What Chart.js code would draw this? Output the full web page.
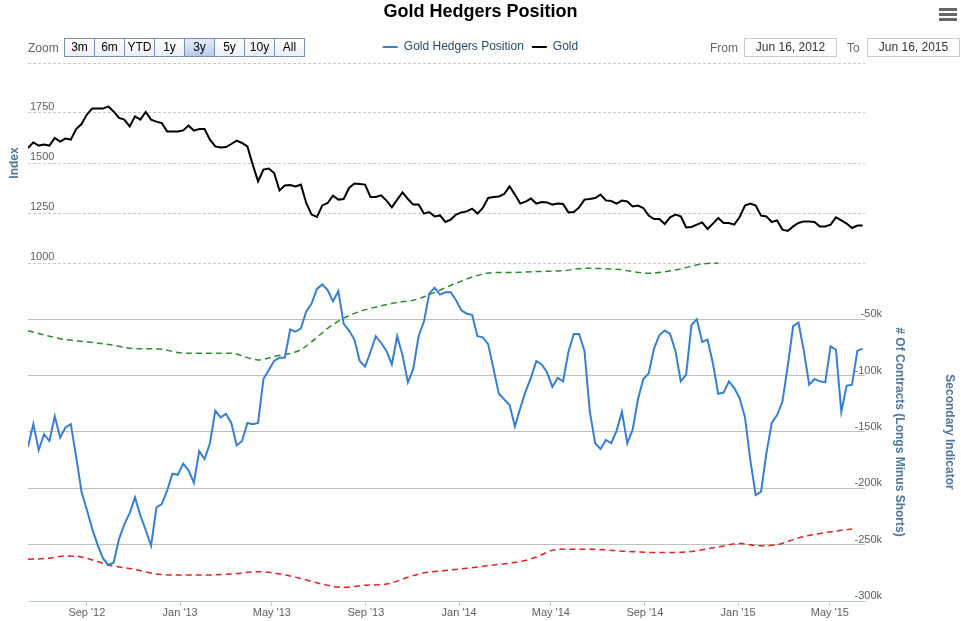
<!DOCTYPE html>
<html>
<head>
<meta charset="utf-8">
<title>Gold Hedgers Position</title>
<script src="https://cdn.jsdelivr.net/npm/chart.js@4.4.1/dist/chart.umd.min.js"></script>
<style>
  body { margin: 0; background: #fff; font-family: "Liberation Sans", Arial, sans-serif; }
  #wrap { position: relative; width: 961px; height: 621px; overflow: hidden; }
  #chart { position: absolute; left: 0; top: 0; }
  .ctl { position: absolute; top: 39px; line-height: 19px; font-size: 12px; color: #666; }
  .btns { position: absolute; left: 64px; top: 38px; display: flex; }
  .btns span { width: 29px; height: 17px; line-height: 17px; border: 1px solid #7391b8; margin-right: -1px;
    text-align: center; font-size: 12px; color: #000; background: linear-gradient(#ffffff, #eceff3); }
  .btns span.on { background: linear-gradient(#e4edf8, #b5cbe8); }
  .date { position: absolute; top: 38px; width: 91px; height: 17px; line-height: 17px; border: 1px solid #ccc;
    font-size: 12px; color: #333; text-align: center; }
  .menu { position: absolute; left: 939px; width: 18px; height: 3px; background: #666; }
</style>
</head>
<body>
<div id="wrap">
  <canvas id="chart" width="961" height="621"></canvas>
  <div class="ctl" style="left:28px">Zoom</div>
  <div class="btns" id="btns"></div>
  <div class="ctl" style="left:710px">From</div>
  <div class="date" style="left:744px">Jun 16, 2012</div>
  <div class="ctl" style="left:847px">To</div>
  <div class="date" style="left:867px">Jun 16, 2015</div>
  <div class="menu" style="top:8px"></div>
  <div class="menu" style="top:13px"></div>
  <div class="menu" style="top:18px"></div>
</div>
<script>
// weekly readings, starting on the first date
const startDate = '2012-06-16';
const endDate = '2015-06-16';

// Gold price (Index)
const goldValues = [
  1575, 1603, 1587, 1592, 1587, 1625, 1607, 1622, 1617, 1670,
  1695, 1742, 1772, 1772, 1772, 1783, 1758, 1725, 1717, 1683,
  1733, 1717, 1755, 1717, 1707, 1700, 1658, 1658, 1658, 1663,
  1687, 1662, 1670, 1670, 1617, 1583, 1578, 1580, 1595, 1612,
  1600, 1583, 1492, 1408, 1467, 1472, 1450, 1363, 1388, 1390,
  1383, 1392, 1300, 1242, 1230, 1288, 1300, 1337, 1317, 1320,
  1375, 1397, 1395, 1392, 1330, 1330, 1338, 1312, 1278, 1317,
  1353, 1320, 1292, 1292, 1247, 1255, 1233, 1238, 1205, 1217,
  1242, 1253, 1258, 1272, 1247, 1275, 1325, 1330, 1333, 1345,
  1383, 1342, 1297, 1307, 1322, 1297, 1305, 1303, 1292, 1297,
  1295, 1253, 1255, 1278, 1317, 1320, 1325, 1342, 1313, 1310,
  1297, 1312, 1308, 1283, 1287, 1275, 1237, 1220, 1220, 1195,
  1228, 1242, 1233, 1178, 1180, 1192, 1203, 1170, 1197, 1225,
  1200, 1200, 1192, 1230, 1287, 1297, 1287, 1237, 1233, 1205,
  1213, 1167, 1160, 1183, 1200, 1208, 1208, 1205, 1183, 1183,
  1192, 1228, 1213, 1197, 1175, 1187, 1188
];

// hedgers net position, thousands of contracts
const hedgerValues = [
  -163, -143, -166, -152, -158, -136, -155, -146, -143, -172,
  -203, -219, -236, -250, -262, -268, -266, -245, -232, -222,
  -208, -224, -237, -251, -217, -214, -202, -187, -188, -178,
  -184, -195, -167, -174, -160, -131, -137, -134, -142, -162,
  -158, -142, -143, -142, -103, -95, -87, -84, -84, -59,
  -61, -58, -43, -36, -23, -19, -24, -34, -25, -54,
  -60, -68, -87, -92, -79, -65, -71, -78, -90, -65,
  -82, -106, -94, -65, -52, -27, -22, -28, -26, -26,
  -33, -42, -45, -46, -65, -66, -72, -94, -116, -121,
  -126, -145, -129, -114, -102, -87, -90, -97, -110, -102,
  -105, -79, -63, -63, -78, -132, -160, -165, -157, -160,
  -149, -132, -160, -148, -121, -103, -98, -76, -64, -60,
  -63, -78, -105, -99, -55, -50, -70, -68, -89, -116,
  -115, -105, -111, -120, -137, -175, -206, -203, -169, -142,
  -135, -123, -91, -56, -53, -78, -108, -103, -105, -106,
  -74, -77, -132, -109, -108, -78, -76
];

// secondary indicator bands (week number, thousands)
const upperWeeks = [0, 4, 7, 11, 16, 20, 24, 29, 33, 38, 41, 43, 46, 51, 53, 56, 59, 62, 66, 69,
  72, 74, 77, 80, 84, 87, 90, 95, 100, 104, 110, 116, 121, 126, 129];
const upperValues = [-60, -65, -68, -70, -73, -76, -76, -80, -80, -80, -84, -86, -83, -77, -70, -58, -49, -43, -38, -35,
  -33, -30, -24, -18, -11, -8.5, -8.5, -7.6, -6.8, -4.7, -5.6, -9.1, -6.2, -0.8, 0];
const lowerWeeks = [0, 4, 7, 10, 13, 15, 20, 24, 28, 33, 38, 43, 47, 51, 55, 59, 63, 67, 71, 74,
  78, 82, 87, 92, 95, 98, 100, 105, 112, 118, 124, 129, 133, 137, 140, 144, 148, 154];
const lowerValues = [-263, -262, -260, -261, -265, -268, -272, -276, -277, -277, -276, -274, -276, -280, -285, -288, -286, -285, -279, -275,
  -273, -271, -268, -265, -261, -255, -254, -254, -256, -257, -256, -252, -249, -251, -250, -244, -240, -236];

const tickDates = ['2012-09-01', '2013-01-01', '2013-05-01', '2013-09-01', '2014-01-01',
  '2014-05-01', '2014-09-01', '2015-01-01', '2015-05-01'];
const tickLabels = ["Sep '12", "Jan '13", "May '13", "Sep '13", "Jan '14",
  "May '14", "Sep '14", "Jan '15", "May '15"];
const goldTicks = [1000, 1250, 1500, 1750, 2000];
const hedgeTicks = [-300, -250, -200, -150, -100, -50];
const rangeButtons = ['3m', '6m', 'YTD', '1y', '3y', '5y', '10y', 'All'];

document.getElementById('btns').innerHTML = rangeButtons
  .map(b => '<span' + (b === '3y' ? ' class="on"' : '') + '>' + b + '</span>').join('');

const DAY = 86400000;
const t0 = Date.parse(startDate);
const weekTime = i => t0 + i * 7 * DAY;

// gold pane takes the upper part of the plot, hedgers the lower part
const split = 200 / 538;
const goldMin = 2000 - 1000 / split;
const hedgeMax = 300 / (1 - split) - 300;

Chart.defaults.font.family = '"Liberation Sans", Arial, sans-serif';

const axisTitles = {
  id: 'axisTitles',
  afterDraw(chart) {
    const { ctx, chartArea } = chart;
    const g = chart.scales.yGold, h = chart.scales.yHedge;
    const goldMid = (g.getPixelForValue(2000) + g.getPixelForValue(1000)) / 2;
    const hedgeMid = (h.getPixelForValue(0) + h.getPixelForValue(-300)) / 2;
    const put = (text, x, y, angle) => {
      ctx.save();
      ctx.translate(x, y);
      ctx.rotate(angle);
      ctx.fillText(text, 0, 0);
      ctx.restore();
    };
    ctx.save();
    ctx.font = 'bold 12px "Liberation Sans", Arial, sans-serif';
    ctx.fillStyle = '#4d759e';
    ctx.textAlign = 'center';
    ctx.textBaseline = 'middle';
    put('Index', 15, goldMid, -Math.PI / 2);
    put('# Of Contracts (Longs Minus Shorts)', chartArea.right + 34, hedgeMid, Math.PI / 2);
    put('Secondary Indicator', chartArea.right + 84, hedgeMid, Math.PI / 2);
    ctx.restore();
  }
};

const ctx = document.getElementById('chart').getContext('2d');
new Chart(ctx, {
  type: 'line',
  data: {
    datasets: [
      {
        label: 'Gold Hedgers Position',
        data: hedgerValues.map((v, i) => ({ x: weekTime(i), y: v })),
        yAxisID: 'yHedge',
        borderColor: '#3580d4',
        backgroundColor: '#3580d4',
        borderWidth: 2,
        pointRadius: 0
      },
      {
        label: 'Gold',
        data: goldValues.map((v, i) => ({ x: weekTime(i), y: v })),
        yAxisID: 'yGold',
        borderColor: '#000000',
        backgroundColor: '#000000',
        borderWidth: 2,
        pointRadius: 0
      },
      {
        label: 'Upper',
        data: upperWeeks.map((w, i) => ({ x: weekTime(w), y: upperValues[i] })),
        yAxisID: 'yHedge',
        borderColor: '#2a8c2a',
        borderWidth: 1.5,
        borderDash: [6, 4],
        cubicInterpolationMode: 'monotone',
        pointRadius: 0
      },
      {
        label: 'Lower',
        data: lowerWeeks.map((w, i) => ({ x: weekTime(w), y: lowerValues[i] })),
        yAxisID: 'yHedge',
        borderColor: '#e32222',
        borderWidth: 1.5,
        borderDash: [6, 4],
        cubicInterpolationMode: 'monotone',
        pointRadius: 0
      }
    ]
  },
  options: {
    responsive: false,
    animation: false,
    layout: { padding: 0 },
    plugins: {
      title: {
        display: true,
        text: 'Gold Hedgers Position',
        color: '#000',
        font: { size: 18, weight: 'bold' },
        padding: { top: 1, bottom: 10.4 }
      },
      legend: {
        position: 'top',
        labels: {
          color: '#274b6d',
          font: { size: 12 },
          boxWidth: 15,
          boxHeight: 2,
          padding: 8,
          generateLabels(chart) {
            return Chart.defaults.plugins.legend.labels.generateLabels(chart)
              .filter(item => item.datasetIndex < 2)
              .map(item => Object.assign(item, { fillStyle: item.strokeStyle, lineWidth: 0 }));
          }
        }
      },
      tooltip: { enabled: false }
    },
    scales: {
      x: {
        type: 'linear',
        min: t0,
        max: Date.parse(endDate),
        afterFit(scale) { scale.height = 20; },
        afterBuildTicks(scale) { scale.ticks = tickDates.map(d => ({ value: Date.parse(d) })); },
        grid: { drawOnChartArea: false, drawTicks: true, tickLength: 5, color: '#c0d0e0' },
        border: { display: true, color: '#c0d0e0' },
        ticks: {
          autoSkip: false,
          maxRotation: 0,
          padding: 0,
          color: '#606060',
          font: { size: 11 },
          callback: (v, i) => tickLabels[i]
        }
      },
      yGold: {
        type: 'linear',
        position: 'left',
        min: goldMin,
        max: 2000,
        afterFit(scale) { scale.width = 28; scale.paddingTop = 0; scale.paddingBottom = 0; },
        afterBuildTicks(scale) { scale.ticks = goldTicks.map(v => ({ value: v })); },
        grid: { color: '#c8c8c8', drawTicks: false },
        border: { display: false, dash: [3, 2] },
        ticks: {
          mirror: true,
          padding: 2,
          labelOffset: -6,
          color: '#606060',
          font: { size: 11 },
          callback: v => (v < 2000 ? String(v) : '')
        }
      },
      yHedge: {
        type: 'linear',
        position: 'right',
        min: -300,
        max: hedgeMax,
        afterFit(scale) { scale.width = 96; scale.paddingTop = 0; scale.paddingBottom = 0; },
        afterBuildTicks(scale) { scale.ticks = hedgeTicks.map(v => ({ value: v })); },
        grid: {
          drawTicks: false,
          color: c => (c.tick && c.tick.value > -300 ? '#c0c0c0' : 'rgba(0,0,0,0)')
        },
        border: { display: false },
        ticks: {
          mirror: true,
          padding: 17,
          labelOffset: -5,
          color: '#606060',
          font: { size: 11 },
          callback: v => v + 'k'
        }
      }
    }
  },
  plugins: [axisTitles]
});
</script>
</body>
</html>
